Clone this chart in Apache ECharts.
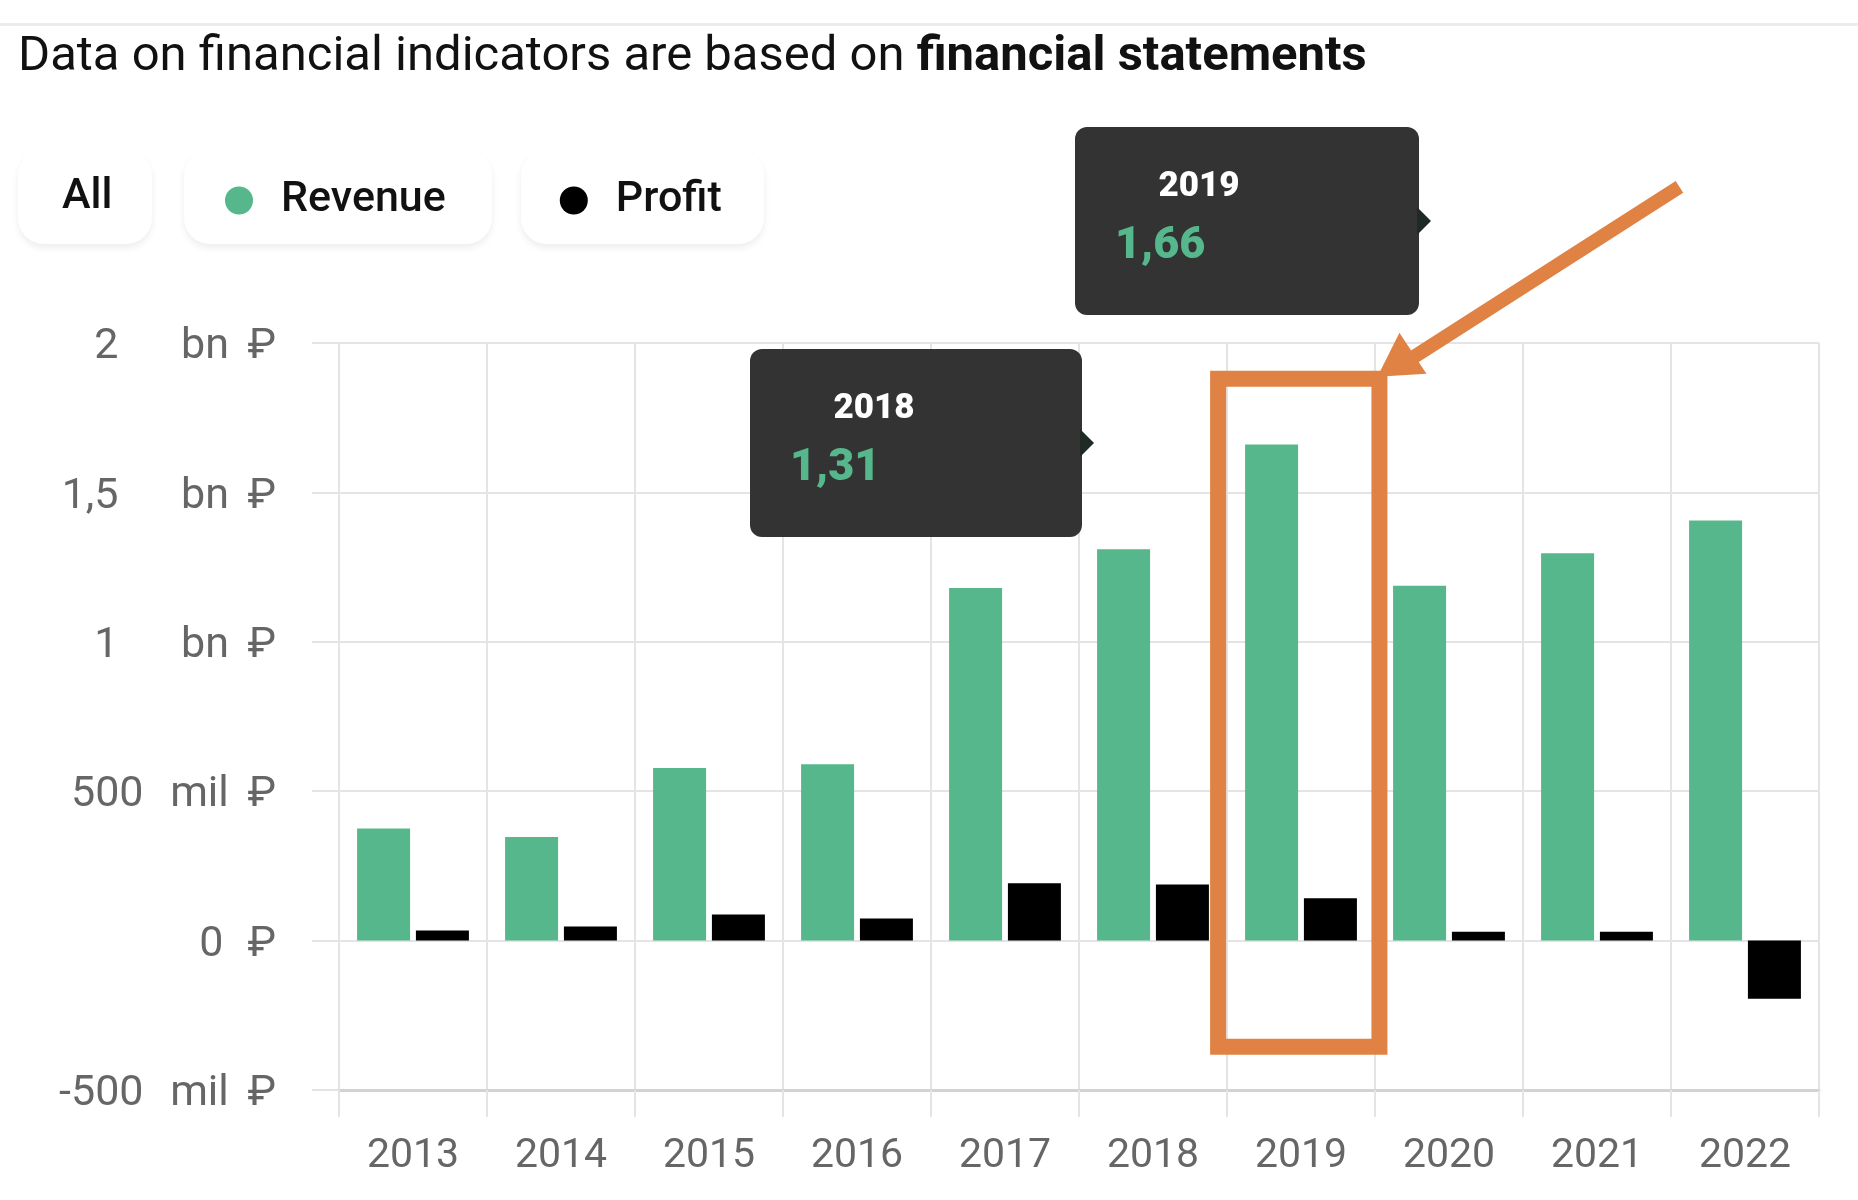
<!DOCTYPE html>
<html>
<head>
<meta charset="utf-8">
<title>Revenue and profit</title>
<script src="https://cdn.jsdelivr.net/npm/echarts@6/dist/echarts.min.js"></script>
<style>
html, body { margin: 0; padding: 0; background: #fff; }
#main { width: 1858px; height: 1200px; }
</style>
</head>
<body>
<div id="main"></div>
<script>
// values in millions of rubles
var years = ['2013', '2014', '2015', '2016', '2017', '2018', '2019', '2020', '2021', '2022'];
var revenue = [375, 347, 578, 590, 1180, 1310, 1660, 1188, 1296, 1406];
var profit = [34, 47, 87, 74, 192, 188, 142, 30, 30, -195];
var yTicks = [-500, 0, 500, 1000, 1500, 2000];
var highlighted = ['2018', '2019'];

var GREEN = '#55b78b',
	GRID = '#e4e4e4',
	FONT = 'Roboto';

var chart = echarts.init(document.getElementById('main'));

var yLabel = function(v){
	if(v == 0) return '{z|0}{r|₽}';
	if(Math.abs(v) >= 1000) return '{b|' + String(v / 1000).replace('.', ',') + '}{bu|bn}{r|₽}';
	return '{m|' + v + '}{mu|mil}{r|₽}';
}
var yl = function(extra){
	var s = {fontFamily: FONT, fontSize: 43, color: '#666'};
	for(var k in extra) s[k] = extra[k];
	return s;
}

var option = {
	animation: false,
	title: {
		left: 13,
		top: 28,
		text: '{a|Data on financial indicators are based on }{b|financial statements}',
		textStyle: {
			rich: {
				a: {fontFamily: FONT, fontSize: 49, fontWeight: 'normal', color: '#111'},
				b: {fontFamily: FONT, fontSize: 49, fontWeight: 'bold', color: '#111'}
			}
		}
	},
	legend: {
		left: 225,
		top: 179,
		padding: 0,
		itemGap: 114,
		itemWidth: 28,
		itemHeight: 28,
		icon: 'circle',
		selectedMode: false,
		data: ['Revenue', 'Profit'],
		textStyle: {fontFamily: FONT, fontSize: 43, fontWeight: 500, color: '#111', padding: [0, 0, 0, 23]}
	},
	grid: {left: 339, right: 39, top: 343, bottom: 110},
	xAxis: {
		type: 'category',
		data: years,
		boundaryGap: true,
		axisLine: {onZero: false, lineStyle: {color: '#d2d2d2', width: 3}},
		axisTick: {show: true, length: 27, lineStyle: {color: GRID, width: 2}},
		splitLine: {show: true, lineStyle: {color: GRID, width: 2}},
		axisLabel: {fontFamily: FONT, fontSize: 41, color: '#666', margin: 46}
	},
	yAxis: {
		type: 'value',
		min: yTicks[0],
		max: yTicks[yTicks.length - 1],
		interval: 500,
		axisLine: {show: false},
		axisTick: {show: true, length: 27, lineStyle: {color: GRID, width: 2}},
		splitLine: {lineStyle: {color: GRID, width: 2}},
		axisLabel: {
			margin: 63,
			formatter: yLabel,
			rich: {
				b: yl({padding: [9, 44, 0, 0]}),
				bu: yl({width: 85, align: 'left', padding: [9, 0, 0, 0]}),
				m: yl({padding: [9, 8, 0, 0]}),
				mu: yl({width: 96, align: 'left', padding: [9, 0, 0, 0]}),
				z: yl({padding: [9, 24, 0, 0]}),
				r: yl({padding: [9, 0, 0, 0]})
			}
		}
	},
	series: [{
		name: 'Revenue',
		type: 'bar',
		data: revenue,
		barWidth: 53,
		barGap: '11%',
		itemStyle: {color: GREEN}
	}, {
		name: 'Profit',
		type: 'bar',
		data: profit,
		barWidth: 53,
		itemStyle: {color: '#000'}
	}]
};
chart.setOption(option);

// annotations: pills, tooltips, orange highlight
var px = function(i, v){
	return chart.convertToPixel({xAxisIndex: 0, yAxisIndex: 0}, [i, v]);
}
var band = px(1, 0)[0] - px(0, 0)[0];

var pill = function(x, w){
	return {
		type: 'rect', z: 1,
		shape: {x: x, y: 150, width: w, height: 94, r: 26},
		style: {fill: '#fff', shadowBlur: 7, shadowOffsetY: 4, shadowColor: 'rgba(0,0,0,0.07)'}
	};
}

var tip = function(year, left, top, w){
	var i = years.indexOf(year);
	var val = String((revenue[i] / 1000).toFixed(2)).replace('.', ',');
	return {
		type: 'group', z: 100, left: left, top: top,
		children: [{
			type: 'rect', z: 100,
			shape: {x: 0, y: 0, width: w, height: 188, r: 12},
			style: {fill: '#333'}
		}, {
			type: 'polygon', z: 100,
			shape: {points: [[w - 2, 80], [w + 12, 94], [w - 2, 108]]},
			style: {fill: '#1d2b24'}
		}, {
			type: 'text', z: 101, x: 124, y: 60,
			style: {text: year, fill: '#fff', font: '900 35px ' + FONT, align: 'center', verticalAlign: 'middle'}
		}, {
			type: 'text', z: 101, x: 40, y: 120,
			style: {text: val, fill: GREEN, font: '900 45px ' + FONT, align: 'left', verticalAlign: 'middle'}
		}]
	};
}

var hi = years.indexOf('2019');
var c = px(hi, 0)[0];
var rTop = px(hi, 1880)[1], rBot = px(hi, -355)[1];
var rL = c - band * 0.56, rR = c + band * 0.53;
var ORANGE = '#e08243';

chart.setOption({
	graphic: [
		{type: 'rect', z: 1, shape: {x: 0, y: 23, width: 1858, height: 3}, style: {fill: '#ececec'}},
		pill(18, 134), pill(184, 308), pill(521, 243),
		{type: 'text', z: 2, x: 62, y: 197, style: {text: 'All', font: '500 43px ' + FONT, fill: '#111', verticalAlign: 'middle'}},
		tip(highlighted[1], 1075, 127, 344),
		tip(highlighted[0], 750, 349, 332),
		{
			type: 'rect', z: 110,
			shape: {x: rL, y: rTop, width: rR - rL, height: rBot - rTop},
			style: {fill: 'none', stroke: ORANGE, lineWidth: 16}
		},
		{
			type: 'line', z: 110,
			shape: {x1: rR + 300, y1: rTop - 192, x2: rR + 22, y2: rTop - 14},
			style: {stroke: ORANGE, lineWidth: 14}
		},
		{
			type: 'polygon', z: 110,
			shape: {points: [[rR - 2, rTop - 2], [rR + 20, rTop - 46], [rR + 47, rTop - 5]]},
			style: {fill: ORANGE}
		}
	]
});
</script>
</body>
</html>
